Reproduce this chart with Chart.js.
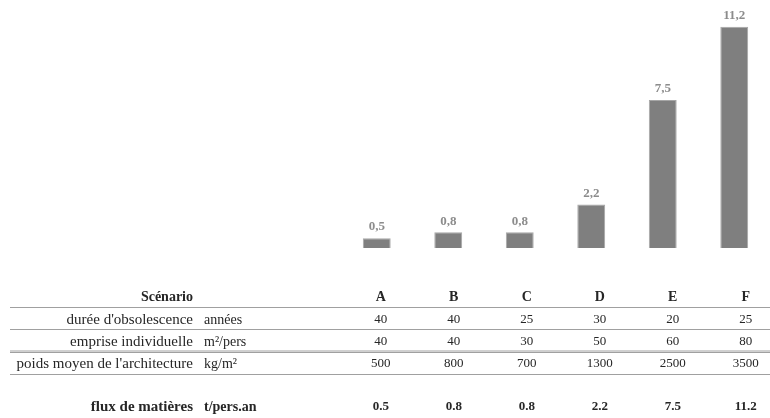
<!DOCTYPE html>
<html>
<head>
<meta charset="utf-8">
<script src="https://cdn.jsdelivr.net/npm/chart.js@4"></script>
<style>
  body { margin: 0; background: #fff; }
  #wrap { width: 770px; height: 418px; position: relative; }
</style>
</head>
<body>
<div id="wrap"><canvas id="myChart"></canvas></div>
<script>
// data
var scenarios = ["A", "B", "C", "D", "E", "F"];
var flux = [0.5, 0.8, 0.8, 2.2, 7.5, 11.2];
var fluxText = ["0.5", "0.8", "0.8", "2.2", "7.5", "11.2"];
var obsolescence = [40, 40, 25, 30, 20, 25];
var emprise = [40, 40, 30, 50, 60, 80];
var poids = [500, 800, 700, 1300, 2500, 3500];

var rows = [
    { label: "durée d'obsolescence", unit: "années", values: obsolescence },
    { label: "emprise individuelle", unit: "m²/pers", values: emprise },
    { label: "poids moyen de l'architecture", unit: "kg/m²", values: poids }
];

var SERIF = "'Liberation Serif', 'DejaVu Serif', serif";

// value labels above bars (french decimal comma)
var barLabels = {
    id: "barLabels",
    afterDatasetsDraw: function(chart) {
        var ctx = chart.ctx;
        var meta = chart.getDatasetMeta(0);
        ctx.save();
        ctx.font = "bold 13px " + SERIF;
        ctx.fillStyle = "#8c8c8c";
        ctx.textAlign = "center";
        ctx.textBaseline = "middle";
        meta.data.forEach(function(bar, i) {
            ctx.fillText(String(flux[i]).replace(".", ","), bar.x, bar.y - 11);
        });
        ctx.restore();
    }
};

// table under the chart
var tablePlugin = {
    id: "tablePlugin",
    afterDraw: function(chart) {
        var ctx = chart.ctx;
        var xs = chart.scales.x;
        function colX(i) { return xs.getPixelForValue(i) + 4 + i * 1.5; }
        var labelRight = 193, unitLeft = 204;
        ctx.save();
        ctx.fillStyle = "#262626";
        ctx.textBaseline = "middle";

        // header
        ctx.font = "bold 14px " + SERIF;
        ctx.textAlign = "right";
        ctx.fillText("Scénario", labelRight, 297);
        ctx.textAlign = "center";
        scenarios.forEach(function(s, i) { ctx.fillText(s, colX(i), 297); });

        // body rows
        var ys = [320, 342, 364];
        rows.forEach(function(r, k) {
            ctx.font = "15px " + SERIF;
            ctx.textAlign = "right";
            ctx.fillText(r.label, labelRight, ys[k]);
            ctx.font = "14px " + SERIF;
            ctx.textAlign = "left";
            ctx.fillText(r.unit, unitLeft, ys[k]);
            ctx.font = "13px " + SERIF;
            ctx.textAlign = "center";
            r.values.forEach(function(v, i) { ctx.fillText(String(v), colX(i), ys[k]); });
        });

        // result row
        ctx.font = "bold 15px " + SERIF;
        ctx.textAlign = "right";
        ctx.fillText("flux de matières", labelRight, 407);
        ctx.font = "bold 14px " + SERIF;
        ctx.textAlign = "left";
        ctx.fillText("t/pers.an", unitLeft, 407);
        ctx.font = "bold 13px " + SERIF;
        ctx.textAlign = "center";
        fluxText.forEach(function(v, i) { ctx.fillText(v, colX(i), 407); });

        // rules
        ctx.strokeStyle = "#a0a0a0";
        ctx.lineWidth = 1;
        [307.5, 329.5, 351, 352.5, 374.5].forEach(function(y) {
            ctx.beginPath();
            ctx.moveTo(10, y);
            ctx.lineTo(770, y);
            ctx.stroke();
        });
        ctx.restore();
    }
};

var ctx = document.getElementById('myChart').getContext('2d');
var chart = new Chart(ctx, {
    type: 'bar',
    data: {
        labels: scenarios,
        datasets: [{
            label: "flux de matières",
            backgroundColor: '#7f7f7f',
            borderColor: '#a6a6a6',
            borderWidth: 1,
            categoryPercentage: 1,
            barPercentage: 0.39,
            data: flux
        }]
    },
    options: {
        responsive: true,
        maintainAspectRatio: false,
        animation: false,
        layout: { padding: { left: 341, right: 0, top: 11, bottom: 170 } },
        plugins: {
            legend: { display: false },
            tooltip: { enabled: false }
        },
        scales: {
            x: { display: false },
            y: { display: false, min: 0, max: 12 }
        }
    },
    plugins: [barLabels, tablePlugin]
});
</script>
</body>
</html>
